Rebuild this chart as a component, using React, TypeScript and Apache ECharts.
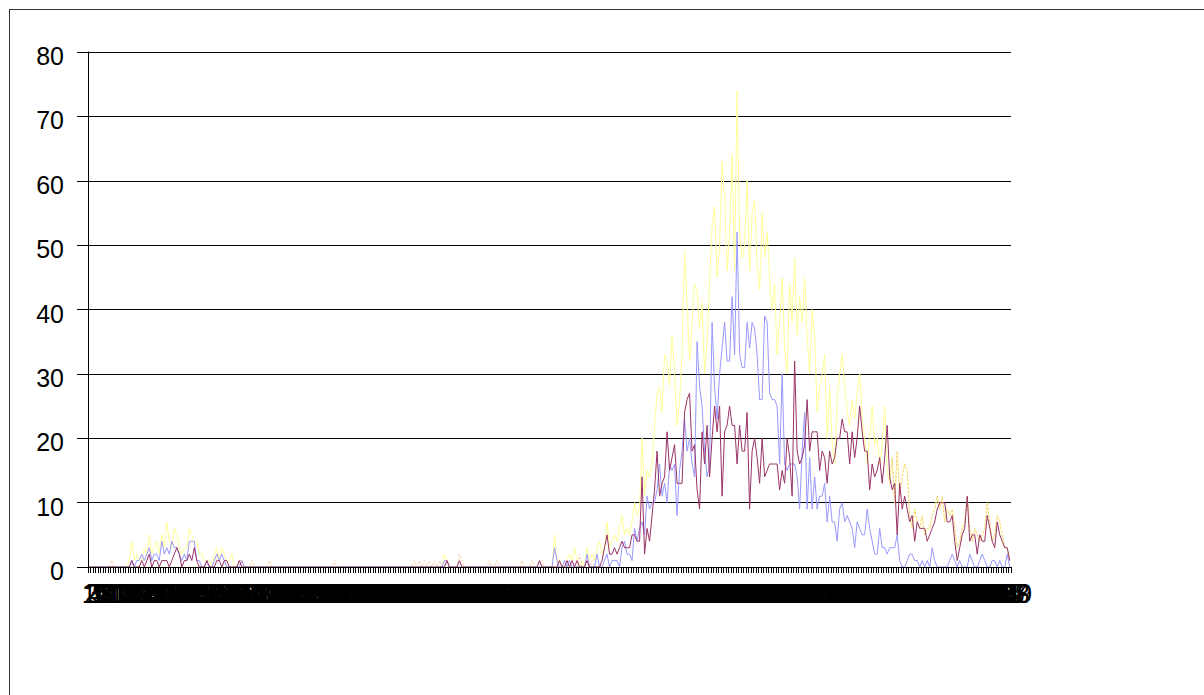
import React, { useEffect, useRef } from "react";
import * as echarts from "echarts";

const n = null;

const blue = [
  0,0,0,0,0,0,0,0,0,0,
  0,0,0,0,0,0,0,1,0,1,
  1,2,1,2,3,1,2,2,1,4,
  2,3,2,4,3,3,2,1,2,1,
  4,4,4,1,1,0,0,1,0,0,
  1,2,1,2,1,0,0,0,0,0,
  0,1,0,0,0,0,0,0,0,0,
  0,0,0,0,0,0,0,0,0,0,
  0,0,0,0,0,0,0,0,0,0,
  0,0,0,0,0,0,0,0,0,0,
  0,0,0,0,0,0,0,0,0,0,
  0,0,0,0,0,0,0,0,0,0,
  0,0,0,0,0,0,0,0,0,0,
  0,0,0,0,0,0,0,0,0,0,
  0,0,1,1,0,0,0,0,0,0,
  0,0,0,0,0,0,0,0,0,0,
  0,0,0,0,0,0,0,0,0,0,
  0,0,0,0,0,0,0,0,0,0,
  0,0,0,0,0,0,3,1,0,0,
  1,0,1,0,0,0,0,0,0,2,
  0,0,0,2,0,0,1,2,0,1,
  1,1,0,3,4,2,2,1,6,4,
  6,7,5,11,9,10,10,12,16,11,
  13,10,16,15,16,8,15,18,23,18,
  20,16,14,35,28,25,18,14,16,38,
  28,23,30,34,38,32,32,42,33,52,
  33,31,31,38,34,38,37,33,26,26,
  39,38,27,26,26,25,16,30,16,15,
  16,16,16,14,9,18,24,9,17,9,
  14,9,11,11,13,7,11,7,7,4,
  9,10,7,8,7,6,3,7,6,5,
  5,9,6,4,2,2,6,3,3,2,
  3,3,3,5,1,0,0,1,2,2,
  1,1,0,1,0,1,0,3,1,0,
  0,0,0,0,1,2,1,0,1,0,
  0,0,2,1,0,0,1,2,1,0,
  0,1,1,0,1,0,0,2,0,
];

const maroon = [
  0,0,0,0,0,0,0,0,0,0,
  0,0,0,0,0,0,0,1,0,0,
  0,1,0,1,2,0,1,1,0,1,
  1,1,0,1,2,3,2,0,1,1,
  2,1,3,1,0,0,0,1,0,0,
  0,1,1,0,1,1,0,0,0,0,
  1,0,0,0,0,0,0,0,0,0,
  0,0,0,0,0,0,0,0,0,0,
  0,0,0,0,0,0,0,0,0,0,
  0,0,0,0,0,0,0,0,0,0,
  0,0,0,0,0,0,0,0,0,0,
  0,0,0,0,0,0,0,0,0,0,
  0,0,0,0,0,0,0,0,0,0,
  0,0,0,0,0,0,0,0,0,0,
  0,0,0,1,0,0,0,0,1,0,
  0,0,0,0,0,0,0,0,0,0,
  0,0,0,0,0,0,0,0,0,0,
  0,0,0,0,0,0,0,0,0,0,
  1,0,0,0,0,0,0,0,1,0,
  0,1,0,1,0,1,0,0,0,1,
  0,0,0,0,0,1,3,5,2,2,
  3,2,3,4,3,3,3,5,5,4,
  4,14,2,6,4,8,12,18,11,13,
  14,21,15,17,19,13,13,13,24,26,
  27,18,19,12,9,21,16,22,14,20,
  25,21,25,11,21,22,25,22,22,16,
  22,18,18,24,9,18,20,17,13,20,
  14,15,16,16,16,16,12,15,13,20,
  17,11,32,18,16,17,19,26,18,21,
  21,21,15,18,17,13,18,16,17,20,
  20,23,21,21,16,21,17,20,25,21,
  18,18,12,16,14,15,17,13,17,22,
  14,12,13,5,13,9,11,9,7,8,
  4,7,6,6,6,4,5,6,7,9,
  10,10,10,7,7,8,4,1,3,5,
  6,11,4,5,5,2,5,4,4,8,
  6,4,3,7,5,4,3,3,1,
];

const yellow = [
  0,0,0,0,0,0,0,0,0,0,
  0,0,0,0,0,0,1,4,1,2,
  1,1,3,2,5,2,3,4,2,5,
  3,7,4,3,6,5,3,2,3,3,
  6,5,4,4,2,2,1,1,1,0,
  2,3,1,3,2,1,1,2,0,0,
  1,1,0,0,0,0,0,0,0,0,
  0,0,0,0,0,0,0,0,0,0,
  0,0,0,0,0,0,0,0,0,0,
  0,0,0,0,0,0,0,0,0,0,
  0,0,0,0,0,0,0,0,0,0,
  0,0,0,0,0,0,0,0,0,0,
  0,0,0,0,0,0,0,0,0,0,
  0,0,0,0,0,0,0,0,0,0,
  0,0,2,1,0,0,0,0,0,0,
  0,0,0,0,0,0,0,0,0,0,
  0,0,0,0,0,0,0,0,0,0,
  0,0,0,0,0,0,0,0,0,0,
  0,0,0,0,0,0,5,1,1,0,
  0,1,2,1,3,1,0,1,0,3,
  1,2,1,3,4,2,3,7,3,4,
  5,4,6,8,5,6,5,7,10,8,
  9,20,11,15,14,16,22,27,28,24,
  33,32,28,36,30,22,26,33,49,41,
  32,38,44,43,37,41,30,35,44,53,
  56,45,50,63,57,46,52,64,46,74,
  52,48,50,60,46,55,57,47,43,55,
  48,52,45,40,44,33,38,45,34,30,
  44,38,48,36,42,38,45,36,30,40,
  36,24,28,30,33,20,28,19,16,26,
  30,33,28,24,22,26,23,27,30,23,
  20,16,20,25,19,20,16,19,25,15,
  13,17,10,18,11,14,16,15,8,6,
  9,7,6,8,5,6,6,8,9,11,
  9,11,7,9,8,9,6,3,4,6,
  7,11,6,4,6,5,4,5,6,10,
  7,4,5,8,7,5,3,3,1,
];

const tan = [
  0,0,0,0,0,0,0,0,0,1,
  0,0,0,0,0,0,0,0,0,0,
  0,0,0,0,0,0,0,0,0,0,
  0,0,0,0,0,0,0,0,0,0,
  0,0,0,0,0,0,0,0,0,0,
  0,0,0,0,0,0,0,0,0,0,
  1,1,0,0,0,1,0,0,0,0,
  0,0,1,0,0,0,0,0,0,0,
  0,0,0,0,0,0,0,0,0,0,
  0,0,0,0,0,0,0,0,1,0,
  0,0,0,0,0,0,0,0,0,0,
  0,0,0,0,0,0,0,0,0,0,
  0,0,0,0,0,0,0,0,0,0,
  1,0,1,0,1,0,1,0,1,0,
  1,0,0,0,0,0,0,0,2,1,
  0,0,0,0,0,0,0,0,0,0,
  1,0,0,1,0,0,0,0,0,0,
  0,0,0,1,0,0,0,1,0,0,
  0,1,0,0,0,0,0,0,0,0,
  0,0,0,0,0,0,2,0,0,0,
  0,1,0,0,0,0,0,0,0,0,
  n,n,n,n,n,n,n,n,n,n,
  n,n,n,n,n,n,n,n,n,n,
  n,n,n,n,n,n,n,n,n,n,
  n,n,n,n,n,n,n,n,n,n,
  n,n,n,n,n,n,n,n,n,n,
  n,n,n,n,n,n,n,n,n,n,
  n,n,n,n,n,n,n,n,n,n,
  n,n,n,n,n,n,n,n,n,n,
  n,n,n,n,n,n,n,n,n,n,
  n,n,n,n,n,n,n,n,n,n,
  n,n,n,n,n,n,n,n,n,n,
  13,17,10,18,11,14,16,15,8,6,
  9,7,6,8,5,6,6,8,9,11,
  9,11,7,9,8,9,6,3,4,6,
  7,11,6,4,6,5,4,5,6,10,
  7,4,5,8,7,5,3,3,1,
];

const categories = blue.map((_, i) => String(i + 1));
const yMin = 0;
const yMax = 80;
const yStep = 10;

const FONT = "'Liberation Sans', Arial, sans-serif";

export default function App() {
  const ref = useRef<HTMLDivElement>(null);
  useEffect(() => {
    if (!ref.current) return;
    const chart = echarts.init(ref.current, null, { renderer: "svg" });
    const line = (name: string, data: any[], color: string, extra: any = {}) => ({
      name,
      type: "line",
      data,
      symbol: "none",
      silent: true,
      connectNulls: false,
      lineStyle: { color, width: 1, ...extra },
      itemStyle: { color },
    });
    chart.setOption({
      animation: false,
      backgroundColor: "transparent",
      grid: { left: 88, top: 52, width: 923, height: 515, containLabel: false },
      xAxis: {
        type: "category",
        data: categories,
        boundaryGap: true,
        z: 10,
        axisLine: { show: true, lineStyle: { color: "#000", width: 1 } },
        axisTick: { show: true, interval: 0, length: 6, lineStyle: { color: "#000", width: 1 } },
        axisLabel: {
          interval: 0,
          color: "#000",
          fontSize: 27,
          fontFamily: FONT,
          margin: 13,
          hideOverlap: false,
        },
        splitLine: { show: false },
      },
      yAxis: {
        type: "value",
        min: yMin,
        max: yMax,
        interval: yStep,
        axisLine: { show: true, lineStyle: { color: "#000", width: 1 } },
        axisTick: { show: true, length: 11, lineStyle: { color: "#000", width: 1 } },
        axisLabel: {
          color: "#000",
          fontSize: 25,
          fontFamily: FONT,
          margin: 24,
          formatter: "{v|{value}}",
          rich: {
            v: {
              color: "#000",
              fontSize: 25,
              fontFamily: FONT,
              padding: [8, 0, 0, 0],
            },
          },
        },
        splitLine: { show: true, lineStyle: { color: "#000", width: 1 } },
      },
      series: [
        line("Series 3", yellow, "#FFFF99"),
        line("Series 4", tan, "#F5C896", { type: [2, 2] }),
        line("Series 1", blue, "#9999FF"),
        line("Series 2", maroon, "#993366"),
      ],
    });
    return () => chart.dispose();
  }, []);

  return (
    <div style={{ position: "fixed", left: 0, top: 0, width: 1204, height: 695, overflow: "hidden", background: "#fff" }}>
      <div
        style={{
          position: "absolute",
          left: 9,
          top: 9,
          width: 1400,
          height: 900,
          borderLeft: "1px solid #333",
          borderTop: "1px solid #333",
        }}
      />
      <div ref={ref} style={{ position: "absolute", left: 0, top: 0, width: 1204, height: 695 }} />
    </div>
  );
}
